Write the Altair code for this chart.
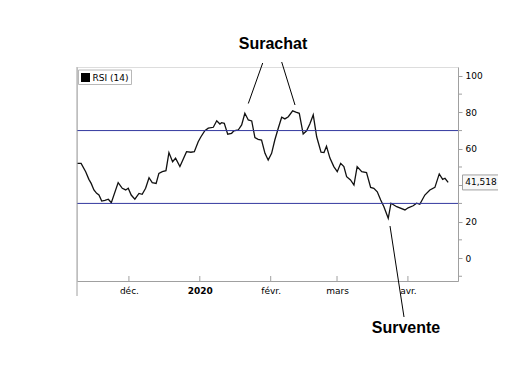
import altair as alt
import pandas as pd

# time in days since 2019-11-01 (Dec 1 = 30, Jan 1 = 61, Feb 1 = 92, Mar 1 = 121, Apr 1 = 152)
day = [7.4, 9.1, 11.1, 12.5, 13.5, 14.7, 15.9, 16.9, 18.1, 19.5, 21.0, 22.3, 25.3, 27.1, 28.6,
       29.7, 31.0, 32.6, 34.4, 35.8, 37.3, 38.8, 40.2, 41.9, 43.1, 44.6, 46.2, 47.5, 49.1, 50.4,
       52.3, 55.2, 57.1, 58.6, 60.3, 61.5, 63.2, 64.7, 66.9, 68.4, 69.8, 70.5, 71.7, 73.2, 74.9,
       75.9, 77.8, 79.3, 80.7, 82.2, 83.7, 85.1, 86.5, 88.0, 89.5, 90.9, 92.4, 93.8, 95.3, 96.8,
       98.2, 99.7, 101.6, 103.0, 104.5, 106.2, 107.7, 109.1, 110.6, 112.1, 114.0, 115.3, 116.4,
       117.9, 119.6, 121.1, 122.6, 124.0, 125.2, 126.9, 128.4, 129.8, 131.8, 133.9, 135.7, 137.1,
       138.6, 140.1, 141.5, 143.4, 144.6, 147.1, 150.7, 152.1, 154.3, 155.8, 157.2, 159.4, 161.6,
       163.8, 165.7, 167.2, 168.2, 169.6]
rsi = [52.0, 52.0, 47.4, 43.2, 41.0, 37.4, 35.5, 34.6, 31.3, 31.7, 32.3, 30.4, 41.4, 38.3, 37.4,
       38.3, 34.6, 32.3, 35.5, 35.0, 38.3, 44.1, 41.4, 41.0, 46.5, 47.4, 48.0, 57.9, 52.9, 54.8,
       50.2, 58.4, 58.1, 58.4, 63.9, 66.6, 69.9, 71.3, 71.8, 75.4, 73.6, 74.3, 74.0, 68.0, 68.5,
       69.9, 70.3, 73.1, 79.5, 75.8, 75.3, 66.1, 65.2, 64.8, 57.5, 53.8, 57.5, 64.8, 71.3, 77.3,
       76.4, 77.6, 80.8, 80.1, 79.5, 68.1, 69.9, 73.6, 78.6, 66.6, 58.1, 57.9, 61.4,
       54.9, 50.2, 47.4, 52.0, 50.2, 44.7, 42.9, 40.1, 50.2, 47.4, 46.9, 38.8, 38.3,
       36.4, 31.9, 28.2, 21.8, 30.1, 28.2, 26.4, 27.6, 28.7, 30.1, 29.5, 34.6, 37.4,
       38.8, 46.2, 43.2, 43.8, 41.518]

month_ticks = [30, 61, 92, 121, 152]
month_labels = ["déc.", "2020", "févr.", "mars", "avr."]
y_major = [0, 20, 40, 60, 80, 100]
y_minor = [-10, 10, 30, 50, 70, 90]
levels = [70, 30]
last_value = 41.518
last_label = "41,518"
legend_label = "RSI (14)"
overbought_label = "Surachat"
oversold_label = "Survente"

W, H = 381, 214
GREY = "#a0a0a0"
BLUE = "#33399f"
FONT = "DejaVu Sans"

df = pd.DataFrame({"day": day, "rsi": rsi})

label_expr = " : ".join(
    f"datum.value == {v} ? '{t}'" for v, t in zip(month_ticks, month_labels)
) + " : ''"

xscale = alt.Scale(domain=[7.3, 173.9], nice=False, zero=False)
yscale = alt.Scale(domain=[-12.6, 104.9], nice=False, zero=False)

x_axis = alt.Axis(values=month_ticks, labelExpr=label_expr, ticks=False, grid=False, title=None,
                  domainColor=GREY, labelFont=FONT, labelFontSize=9, labelColor="black",
                  labelPadding=5, labelFlush=False, labelOverlap=False,
                  labelFontWeight={"condition": {"test": "datum.value == 61", "value": "bold"},
                                   "value": "normal"})
y_axis = alt.Axis(orient="right", values=y_major,
                  labelExpr="datum.value == 40 ? '' : datum.label",
                  grid=False, title=None, domainColor=GREY, tickColor=GREY, tickSize=4,
                  labelFont=FONT, labelFontSize=9, labelColor="black", labelPadding=3,
                  labelFlush=False, labelOverlap=False)

line = alt.Chart(df).mark_line(color="#111111", strokeWidth=1.3).encode(
    x=alt.X("day:Q", scale=xscale, axis=x_axis),
    y=alt.Y("rsi:Q", scale=yscale, axis=y_axis),
)

level_rules = alt.Chart(pd.DataFrame({"level": levels})).mark_rule(
    color=BLUE, strokeWidth=1).encode(y=alt.Y("level:Q", scale=yscale, axis=y_axis))

minor_ticks = alt.Chart(pd.DataFrame({"m": y_minor})).mark_rule(
    color=GREY, strokeWidth=1).encode(
    y=alt.Y("m:Q", scale=yscale, axis=y_axis), x=alt.value(W), x2=alt.value(W + 4))

tick_rules = alt.Chart(pd.DataFrame({"tick": month_ticks})).mark_rule(
    color=GREY, strokeWidth=1).encode(
    x=alt.X("tick:Q", scale=xscale, axis=x_axis), y=alt.value(H - 5), y2=alt.value(H))

ann = pd.DataFrame({"a": [0]})
left_ext = alt.Chart(ann).mark_rule(color=GREY).encode(
    x=alt.value(0), y=alt.value(0), y2=alt.value(H + 15))

arrow1 = alt.Chart(ann).mark_rule(color="black", strokeWidth=1).encode(
    x=alt.value(185.7), y=alt.value(-4), x2=alt.value(171.3), y2=alt.value(36.5))
arrow2 = alt.Chart(ann).mark_rule(color="black", strokeWidth=1).encode(
    x=alt.value(204.7), y=alt.value(-5), x2=alt.value(218), y2=alt.value(38))
arrow3 = alt.Chart(ann).mark_rule(color="black", strokeWidth=1).encode(
    x=alt.value(313), y=alt.value(159), x2=alt.value(327), y2=alt.value(250))

title1 = alt.Chart(ann).mark_text(text=overbought_label, font="Liberation Sans", fontWeight="bold",
                                  fontSize=16, color="black", align="center", baseline="middle").encode(
    x=alt.value(196), y=alt.value(-23))
title2 = alt.Chart(ann).mark_text(text=oversold_label, font="Liberation Sans", fontWeight="bold",
                                  fontSize=16, color="black", align="center", baseline="middle").encode(
    x=alt.value(329), y=alt.value(261))

legend_box = alt.Chart(ann).mark_rect(fill="white", stroke="#b8b8b8", strokeWidth=1).encode(
    x=alt.value(1.5), x2=alt.value(54.5), y=alt.value(3), y2=alt.value(17.5))
legend_sq = alt.Chart(ann).mark_square(size=81, color="black", opacity=1, filled=True).encode(
    x=alt.value(8.5), y=alt.value(10.5))
legend_txt = alt.Chart(ann).mark_text(text=legend_label, font=FONT, fontSize=9, color="black",
                                      align="left", baseline="middle").encode(
    x=alt.value(15.5), y=alt.value(10.5))

last_df = pd.DataFrame({"v": [last_value], "t": [last_label]})
box_path = "M-1,-0.405L1,-0.405L1,0.405L-1,0.405Z"
last_box = alt.Chart(last_df).mark_point(shape=box_path, size=1369, filled=True, fill="#f8f8f8",
                                         stroke=GREY, strokeWidth=1, opacity=1).encode(
    x=alt.value(404), y=alt.Y("v:Q", scale=yscale, axis=y_axis))
last_txt = alt.Chart(last_df).mark_text(font=FONT, fontSize=9, color="black", align="center",
                                        baseline="middle").encode(
    x=alt.value(404), y=alt.Y("v:Q", scale=yscale, axis=y_axis), text="t:N")

chart = alt.layer(
    line, level_rules, minor_ticks, tick_rules, left_ext, arrow1, arrow2, arrow3, title1, title2,
    legend_box, legend_sq, legend_txt, last_box, last_txt
).properties(
    width=W, height=H,
    padding={"left": 69, "top": 59, "right": 40, "bottom": 70},
    autosize=alt.AutoSizeParams(type="none"),
).configure_view(stroke=GREY, strokeWidth=1).configure(background="white")

chart.save("out.html", embed_options={"renderer": "svg", "actions": False})
